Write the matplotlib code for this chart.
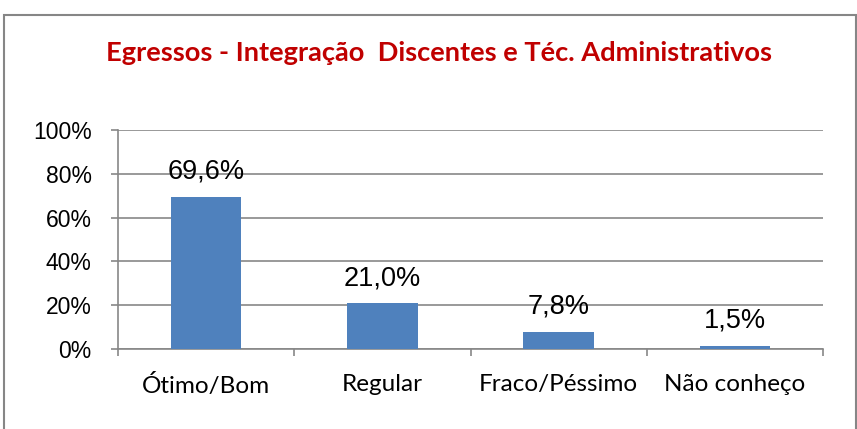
import matplotlib.pyplot as plt
from matplotlib.patches import Rectangle
from matplotlib.ticker import FixedLocator, PercentFormatter

# dados
categorias = ["Ótimo/Bom", "Regular", "Fraco/Péssimo", "Não conheço"]
valores = [69.6, 21.0, 7.8, 1.5]
yticks = [0, 20, 40, 60, 80, 100]

W, H = 857, 429
fig = plt.figure(figsize=(W / 100, H / 100), dpi=100)

# moldura do gráfico
fig.patches.append(Rectangle((4 / W, -0.01), 852 / W, (H - 15) / H + 0.01,
                             transform=fig.transFigure, fill=False,
                             edgecolor="#868686", lw=1.5))

ax = fig.add_axes([118 / W, (H - 349) / H, (823 - 118) / W, (349 - 130) / H])

x = range(len(categorias))
ax.bar(x, valores, width=0.4, color="#4F81BD", zorder=3)

for i, v in zip(x, valores):
    txt = f"{v:.1f}%".replace(".", ",")
    ax.annotate(txt, (i, v), xytext=(0, 18), textcoords="offset points",
                ha="center", va="center", fontsize=19.5,
                family="Liberation Sans", color="#000000", zorder=4)

ax.set_xlim(-0.5, len(categorias) - 0.5)
ax.set_ylim(0, 100)
ax.set_yticks(yticks)
ax.yaxis.set_major_formatter(PercentFormatter(decimals=0))
ax.grid(axis="y", color="#878787", lw=1.2, zorder=0)

ax.set_xticks(list(x))
ax.set_xticklabels(categorias, family="Lato", fontsize=17.5)
ax.xaxis.set_minor_locator(FixedLocator([i - 0.5 for i in range(len(categorias) + 1)]))
ax.tick_params(axis="x", which="major", length=0, pad=18)
ax.tick_params(axis="x", which="minor", length=5, color="#878787", width=1.2)
ax.tick_params(axis="y", length=5, color="#878787", width=1.2, pad=14, labelsize=16.5)
for lab in ax.get_yticklabels():
    lab.set_family("Liberation Sans")

for s in ["top", "right"]:
    ax.spines[s].set_visible(False)
for s in ["left", "bottom"]:
    ax.spines[s].set_color("#878787")
    ax.spines[s].set_linewidth(1.2)

fig.text(439 / W, (H - 53) / H, "Egressos - Integração  Discentes e Téc. Administrativos",
         ha="center", va="center", fontsize=19.6, fontweight="bold",
         family="Lato", color="#C00000")

fig.savefig("out.png", dpi=100)
